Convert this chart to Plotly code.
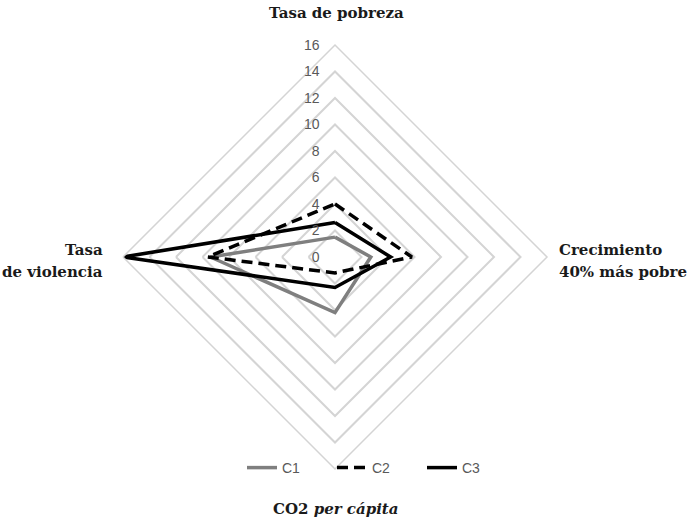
import plotly.graph_objects as go

categories = ["Tasa de pobreza", "Crecimiento 40% más pobre", "CO2 per cápita", "Tasa de violencia"]
c1 = [1.5, 2.7, 4.2, 9.4]
c2 = [4.0, 5.8, 1.2, 9.6]
c3 = [2.6, 4.2, 2.3, 16.0]
radial_ticks = [0, 2, 4, 6, 8, 10, 12, 14, 16]

def closed(v):
    return v + v[:1]

theta = closed(categories)

fig = go.Figure()
fig.add_trace(go.Scatterpolar(r=closed(c1), theta=theta, mode="lines", name="C1",
                              line=dict(color="#7f7f7f", width=3.5)))
fig.add_trace(go.Scatterpolar(r=closed(c2), theta=theta, mode="lines", name="C2",
                              line=dict(color="#000000", width=3.5, dash="11px,6px")))
fig.add_trace(go.Scatterpolar(r=closed(c3), theta=theta, mode="lines", name="C3",
                              line=dict(color="#000000", width=3.5)))

W, H = 694, 521

def px(x):
    return x / W

def py(y):
    return 1 - y / H

cx, cy, R = 335, 257, 212
fig.update_layout(
    width=W, height=H,
    margin=dict(l=0, r=0, t=0, b=0),
    paper_bgcolor="white",
    plot_bgcolor="white",
    polar=dict(
        domain=dict(x=[px(cx - R), px(cx + R)], y=[py(cy + R), py(cy - R)]),
        bgcolor="white",
        gridshape="linear",
        radialaxis=dict(range=[0, 16], tickvals=radial_ticks, angle=90, tickangle=90,
                        side="counterclockwise",
                        showline=False, ticks="outside", ticklen=10, tickcolor="rgba(0,0,0,0)",
                        gridcolor="#d4d4d4", gridwidth=1.5,
                        tickfont=dict(family="Liberation Sans", size=14, color="#595959")),
        angularaxis=dict(rotation=90, direction="clockwise", showgrid=False,
                         showline=True, linecolor="#d4d4d4", linewidth=1.5,
                         showticklabels=False, ticks=""),
    ),
    showlegend=True,
    legend=dict(orientation="h", x=px(242), xanchor="left", y=py(468), yanchor="middle",
                bgcolor="rgba(0,0,0,0)", font=dict(family="Liberation Sans", size=14, color="#595959"),
                entrywidth=45, traceorder="normal"),
)

serif = dict(family="DejaVu Serif", size=15, color="#1a1a1a")

def label(text, x, y, anchor):
    fig.add_annotation(x=px(x), y=py(y), xref="paper", yref="paper", showarrow=False,
                       text=text, font=serif, xanchor=anchor, yanchor="middle")

label("<b>Tasa de pobreza</b>", 336, 13, "center")
label("<b>Crecimiento</b>", 557, 250, "left")
label("<b>40% más pobre</b>", 557, 272, "left")
label("<b>Tasa</b>", 105, 250, "right")
label("<b>de violencia</b>", 105, 272, "right")
label("<b>CO2 <i>per cápita</i></b>", 336, 509, "center")

fig.write_html("out.html", config={"displayModeBar": False},
               post_script="document.body.style.margin='0';document.body.style.overflow='hidden';")
